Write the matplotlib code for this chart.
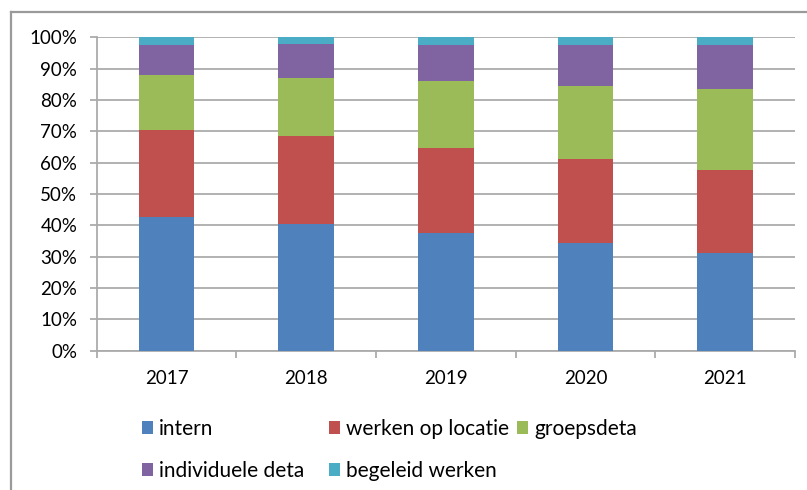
import matplotlib
matplotlib.use("Agg")
import matplotlib.pyplot as plt
from matplotlib.patches import Patch
from matplotlib.lines import Line2D
import numpy as np

plt.rcParams['font.family'] = ['Lato', 'DejaVu Sans']

years = ["2017", "2018", "2019", "2020", "2021"]
series_names = ["intern", "werken op locatie", "groepsdeta", "individuele deta", "begeleid werken"]
intern = [42.8, 40.4, 37.4, 34.3, 31.1]
werken_op_locatie = [27.6, 28.0, 27.2, 26.9, 26.6]
groepsdeta = [17.6, 18.5, 21.4, 23.4, 25.8]
individuele_deta = [9.6, 11.0, 11.6, 13.0, 14.1]
begeleid_werken = [2.4, 2.1, 2.4, 2.4, 2.4]
colors = ["#4F81BD", "#C0504D", "#9BBB59", "#8064A2", "#4BACC6"]
y_ticks = [0, 10, 20, 30, 40, 50, 60, 70, 80, 90, 100]

series = [intern, werken_op_locatie, groepsdeta, individuele_deta, begeleid_werken]

fig = plt.figure(figsize=(8.07, 4.90), dpi=100)
ax = fig.add_axes([96.7/807, 1-350.7/490, (795-96.7)/807, (350.7-37.3)/490])

x = np.arange(len(years))
data = np.array(series, dtype=float)
totals = data.sum(axis=0)
pct = data / totals * 100
bottom = np.zeros(len(years))
handles = []
for name, vals, c in zip(series_names, pct, colors):
    ax.bar(x, vals, width=0.4, bottom=bottom, color=c, zorder=3, linewidth=0)
    bottom += vals
    handles.append(Patch(facecolor=c, edgecolor='none', label=name))

grid_c = "#ababab"
ax.set_ylim(0, 100)
ax.set_xlim(-0.5, len(years) - 0.5)
ax.set_yticks(y_ticks)
ax.set_yticklabels([f"{v}%" for v in y_ticks])
ax.yaxis.grid(True, color=grid_c, linewidth=1.3, zorder=0)
ax.set_axisbelow(True)
ax.set_xticks(x)
ax.set_xticklabels(years)
ax.set_xticks(np.arange(-0.5, len(years)), minor=True)
ax.tick_params(axis='x', which='major', length=0, pad=14, labelsize=13.5, colors='#000000')
ax.tick_params(axis='x', which='minor', length=5, width=1.3, color=grid_c, direction='out')
ax.tick_params(axis='y', length=5, width=1.3, color=grid_c, pad=9, labelsize=13.5)
for s in ['top', 'right']:
    ax.spines[s].set_visible(False)
for s in ['left', 'bottom']:
    ax.spines[s].set_color(grid_c)
    ax.spines[s].set_linewidth(1.3)

# legend laid out in columns like the original (row-major: 3 on first row, 2 on second)
legend_cols = [[0, 3], [1, 4], [2]]
col_x = [141.5, 328.5, 516.5]
for cols, cx in zip(legend_cols, col_x):
    lg = fig.legend(handles=[handles[i] for i in cols], ncol=1, loc='upper left',
                    bbox_to_anchor=(cx/807, 1-419/490), frameon=False,
                    fontsize=15, handlelength=0.55, handleheight=0.55,
                    handletextpad=0.3, labelspacing=1.05,
                    borderaxespad=0, borderpad=0)

# outer frame (top and left border lines)
fig.add_artist(Line2D([11/807, 1], [1-12/490, 1-12/490], color="#9a9a9a", linewidth=1.6, transform=fig.transFigure))
fig.add_artist(Line2D([11/807, 11/807], [0, 1-12/490], color="#9a9a9a", linewidth=1.6, transform=fig.transFigure))

fig.savefig("out.png", dpi=100)
